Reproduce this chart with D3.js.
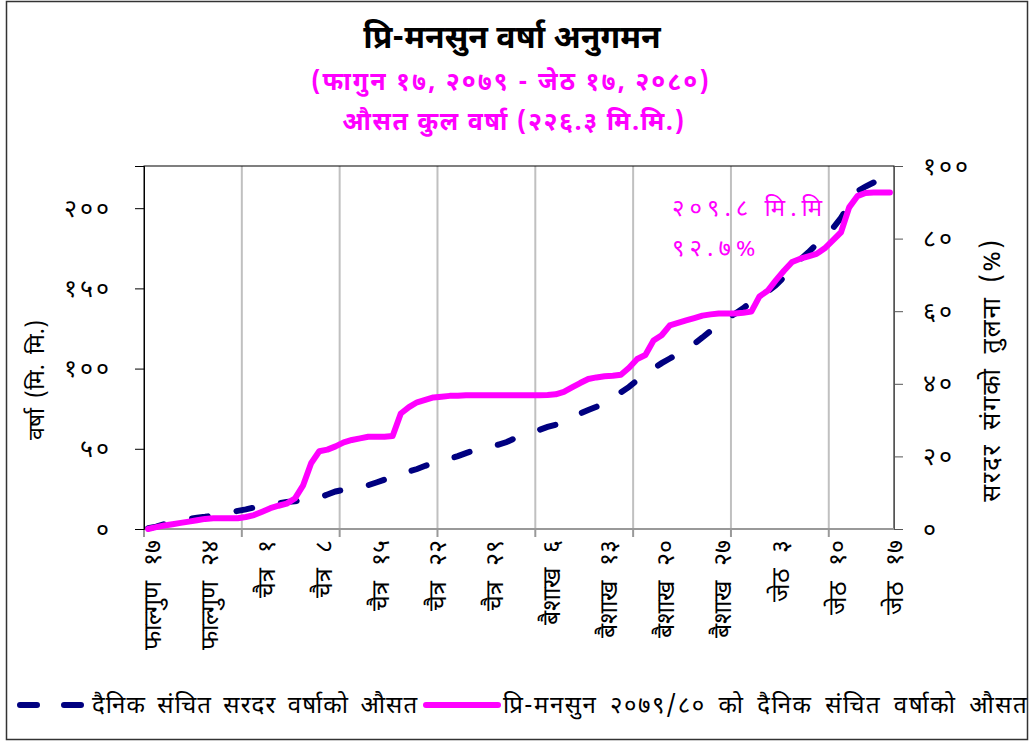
<!DOCTYPE html>
<html>
<head>
<meta charset="utf-8">
<script src="https://cdn.jsdelivr.net/npm/d3@7"></script>
<style>
  body { margin: 0; background: #fff; }
  svg { display: block; font-family: "Noto Sans Devanagari", "Mangal", "Noto Sans", sans-serif; }
</style>
</head>
<body>
<div id="chart"></div>
<script>
// weekly tick labels, one every 7 days starting Falgun 17
var tickLabels = ["फाल्गुण १७", "फाल्गुण २४", "चैत्र १", "चैत्र ८", "चैत्र १५", "चैत्र २२", "चैत्र २९",
  "बैशाख ६", "बैशाख १३", "बैशाख २०", "बैशाख २७", "जेठ ३", "जेठ १०", "जेठ १७"];

// daily cumulative normal rainfall (mm)
var normalRain = [0.5, 1.5, 3, 4.2, 5.3, 6.4, 7, 7.6, 8.4, 9.3,
  10.2, 11.3, 12.2, 13.4, 14.3, 15.3, 16, 16.8, 17.3, 18,
  18.8, 19.6, 21.5, 23.4, 24.4, 25.2, 26, 27.3, 29, 30.8,
  32.6, 34.3, 35.9, 37.4, 39.4, 41, 42.4, 43.8, 45.4, 47.3,
  49, 50.3, 51.6, 52.6, 54.2, 56.6, 58.6, 60.3, 61.8, 63.6,
  65, 67.4, 69.5, 72, 74.2, 76.2, 78.5, 81.5, 85.2, 88.6,
  92.8, 96.5, 100, 103.4, 106.3, 109.2, 112.2, 115.5, 119.4, 123.5,
  127.5, 131.2, 134.2, 137.6, 141.5, 144.2, 148, 152, 157, 163,
  168, 172.5, 177.5, 182.6, 187.5, 194, 202, 210.5, 213.5, 216];

// daily cumulative rainfall 2079/80 (mm)
var actualRain = [0, 1.2, 2.2, 3, 3.8, 4.6, 5.4, 6.3, 6.7, 6.7,
  6.7, 6.7, 7.5, 8.7, 10.8, 13, 14.5, 15.8, 19, 27,
  41, 48.5, 49.5, 51.5, 54, 55.5, 56.5, 57.5, 57.5, 57.5,
  58, 72, 76, 79, 80.5, 82, 82.5, 83, 83, 83.4,
  83.4, 83.4, 83.4, 83.4, 83.4, 83.4, 83.4, 83.4, 83.4, 83.6,
  84, 85.5, 88.3, 91, 93.5, 94.5, 95.2, 95.6, 96.2, 100.5,
  106, 108.5, 117.5, 120.8, 127, 128.5, 130, 131.5, 133, 133.8,
  134.3, 134.3, 134.3, 134.8, 135.5, 145, 148.5, 155, 161, 166.5,
  168.5, 170, 171.5, 175, 180, 185, 200.5, 207.5, 209.5, 209.8,
  209.8, 209.8];

var normalTotal = 226.3;
var leftTicks = [0, 50, 100, 150, 200];
var rightTicks = [0, 20, 40, 60, 80, 100];

var devDigits = "०१२३४५६७८९";
function toDev(n) {
  return String(n).replace(/[0-9]/g, function(c) { return devDigits[+c]; });
}

var width = 1031, height = 742;
var pLeft = 144, pRight = 894, pTop = 166, pBottom = 529;

var svg = d3.select("#chart").append("svg")
  .attr("width", width)
  .attr("height", height);

// outer frame
svg.append("rect")
  .attr("x", 6.5).attr("y", 1.5)
  .attr("width", 1021).attr("height", 738)
  .attr("fill", "none").attr("stroke", "#333").attr("stroke-width", 1.5);

var days = d3.range(actualRain.length);

var x = d3.scaleBand()
  .domain(days)
  .range([pLeft, pRight])
  .padding(0);

var y = d3.scaleLinear()
  .domain([0, normalTotal])
  .range([pBottom, pTop]);

var yPct = d3.scaleLinear()
  .domain([0, 100])
  .range([pBottom, pTop]);

function cx(i) { return x(i) + x.bandwidth() / 2; }

// vertical gridlines every 12 days
var gridDays = days.filter(function(d) { return d % 12 == 0 && d > 0; });
svg.append("g").selectAll("line")
  .data(gridDays)
  .enter().append("line")
  .attr("x1", function(d) { return x(d); })
  .attr("x2", function(d) { return x(d); })
  .attr("y1", pTop).attr("y2", pBottom)
  .attr("stroke", "#c0c0c0").attr("stroke-width", 2);

// plot border
svg.append("rect")
  .attr("x", pLeft).attr("y", pTop)
  .attr("width", pRight - pLeft).attr("height", pBottom - pTop)
  .attr("fill", "none").attr("stroke", "#000").attr("stroke-width", 1);

// x tick marks at 12 day boundaries
svg.append("g").selectAll("line")
  .data(days.filter(function(d) { return d % 12 == 0; }))
  .enter().append("line")
  .attr("x1", function(d) { return x(d); })
  .attr("x2", function(d) { return x(d); })
  .attr("y1", pBottom).attr("y2", pBottom + 8)
  .attr("stroke", "#999").attr("stroke-width", 2);

svg.append("line")
  .attr("x1", pLeft).attr("x2", pRight)
  .attr("y1", pBottom).attr("y2", pBottom)
  .attr("stroke", "#999").attr("stroke-width", 2);

// x labels
var xAxis = d3.axisBottom(x)
  .tickValues(tickLabels.map(function(d, i) { return i * 7; }))
  .tickSize(0)
  .tickFormat(function(d) { return tickLabels[d / 7]; });

var gx = svg.append("g")
  .attr("transform", "translate(0," + pBottom + ")")
  .call(xAxis);
gx.select(".domain").remove();
gx.selectAll("text")
  .attr("font-size", 25)
  .attr("word-spacing", 8)
  .attr("fill", "#000")
  .attr("transform", "rotate(-90)")
  .attr("text-anchor", "end")
  .attr("x", -11)
  .attr("y", 4)
  .attr("dy", "0.35em");

// left axis
var gy = svg.append("g")
  .attr("transform", "translate(" + pLeft + ",0)")
  .call(d3.axisLeft(y).tickValues(leftTicks).tickSize(9).tickPadding(23).tickFormat(toDev));
gy.select(".domain").attr("stroke", "#000");
gy.selectAll(".tick line").attr("stroke", "#000");
gy.selectAll("text").attr("font-size", 25).attr("letter-spacing", 3).attr("fill", "#000");

// right axis
var gr = svg.append("g")
  .attr("transform", "translate(" + pRight + ",0)")
  .call(d3.axisRight(yPct).tickValues(rightTicks).tickSize(9).tickPadding(20).tickFormat(toDev));
gr.select(".domain").attr("stroke", "#555");
gr.selectAll(".tick line").attr("stroke", "#555");
gr.selectAll("text").attr("font-size", 25).attr("letter-spacing", 3).attr("fill", "#000");

// axis titles
svg.append("text")
  .attr("transform", "translate(44,380) rotate(-90)")
  .attr("text-anchor", "middle")
  .attr("font-size", 23)
  .attr("word-spacing", 4)
  .text("वर्षा (मि. मि.)");

svg.append("text")
  .attr("transform", "translate(1000,370) rotate(-90)")
  .attr("text-anchor", "middle")
  .attr("font-size", 25)
  .attr("letter-spacing", 2)
  .attr("word-spacing", 5)
  .text("सरदर संगको तुलना (%)");

// lines
var line = d3.line()
  .x(function(d, i) { return cx(i); })
  .y(function(d) { return y(d); });

var normalPath = svg.append("path")
  .datum(normalRain)
  .attr("d", line)
  .attr("fill", "none")
  .attr("stroke", "#000080")
  .attr("stroke-width", 6)
  .attr("stroke-linecap", "round");

// stretch the dash period a bit so a dash sits on both ends
var dash = 16;
var len = normalPath.node().getTotalLength();
var nDash = Math.round((len - dash) / 44);
var period = (len - dash) / nDash;
normalPath.attr("stroke-dasharray", dash + "," + (period - dash));

svg.append("path")
  .datum(actualRain)
  .attr("d", line)
  .attr("fill", "none")
  .attr("stroke", "#ff00ff")
  .attr("stroke-width", 6)
  .attr("stroke-linecap", "round")
  .attr("stroke-linejoin", "round");

// annotation
var last = actualRain[actualRain.length - 1];
svg.append("text")
  .attr("x", 672).attr("y", 216)
  .attr("font-size", 24).attr("letter-spacing", 5).attr("fill", "#ff00ff")
  .text(toDev(last.toFixed(1)) + " मि.मि");
svg.append("text")
  .attr("x", 672).attr("y", 256)
  .attr("font-size", 24).attr("letter-spacing", 5).attr("fill", "#ff00ff")
  .text(toDev((last / normalTotal * 100).toFixed(1)) + "%");

// titles
svg.append("text")
  .attr("x", 512).attr("y", 48)
  .attr("text-anchor", "middle")
  .attr("font-size", 32).attr("font-weight", "bold")
  .text("प्रि-मनसुन वर्षा अनुगमन");
svg.append("text")
  .attr("x", 511).attr("y", 90)
  .attr("text-anchor", "middle")
  .attr("font-size", 25).attr("font-weight", "bold").attr("letter-spacing", 2)
  .attr("fill", "#ff00ff")
  .text("(फागुन १७, २०७९ - जेठ १७, २०८०)");
svg.append("text")
  .attr("x", 514).attr("y", 130)
  .attr("text-anchor", "middle")
  .attr("font-size", 25).attr("font-weight", "bold").attr("letter-spacing", 1.5)
  .attr("fill", "#ff00ff")
  .text("औसत कुल वर्षा (" + toDev(normalTotal) + " मि.मि.)");

// legend
var legend = svg.append("g").attr("transform", "translate(0,705)");
legend.append("line")
  .attr("x1", 20).attr("x2", 83).attr("y1", 0).attr("y2", 0)
  .attr("stroke", "#000080").attr("stroke-width", 6)
  .attr("stroke-linecap", "round").attr("stroke-dasharray", "17,27");
legend.append("text")
  .attr("x", 92).attr("y", 8).attr("font-size", 24)
  .attr("letter-spacing", 1.1).attr("word-spacing", 4)
  .text("दैनिक संचित सरदर वर्षाको औसत");
legend.append("line")
  .attr("x1", 426).attr("x2", 498).attr("y1", 0).attr("y2", 0)
  .attr("stroke", "#ff00ff").attr("stroke-width", 6)
  .attr("stroke-linecap", "round");
legend.append("text")
  .attr("x", 503).attr("y", 8).attr("font-size", 24)
  .attr("letter-spacing", 1.5).attr("word-spacing", 5)
  .text("प्रि-मनसुन २०७९/८० को दैनिक संचित वर्षाको औसत");
</script>
</body>
</html>
